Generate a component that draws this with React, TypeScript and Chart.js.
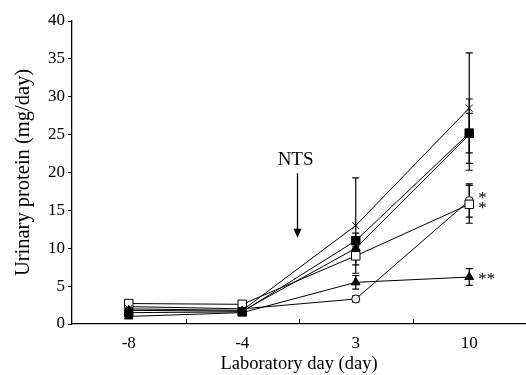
import React, { useEffect, useRef } from "react";
import { Chart, registerables } from "chart.js";

Chart.register(...registerables);

// ---- data ----
const days = ["-8", "-4", "3", "10"];
const yTicks = [0, 5, 10, 15, 20, 25, 30, 35, 40];

const crossValues = [2.0, 1.8, 13.0, 28.5];
const crossErrors = [0.3, 0.3, 6.3, 7.3];
const filledSquareValues = [1.5, 1.6, 11.0, 25.2];
const filledSquareErrors = [0.3, 0.2, 1.0, 2.6];
const filledDiamondValues = [1.8, 1.7, 10.0, 25.0];
const filledDiamondErrors = [0.3, 0.3, 1.0, 4.7];
const openSquareValues = [2.7, 2.6, 9.0, 15.8];
const openSquareErrors = [0.3, 0.3, 1.2, 2.5];
const filledTriangleValues = [1.0, 1.5, 5.5, 6.2];
const filledTriangleErrors = [0.2, 0.2, 0.9, 1.1];
const openCircleValues = [2.3, 2.0, 3.3, 16.3];
const openCircleErrors = [0.3, 0.3, 0.4, 2.2];

// annotations (category index, value)
const ntsLabel = { text: "NTS", x: 1.47, y: 21.7 };
const ntsArrow = { x: 1.48, from: 19.9, to: 11.4 };
const asterisks = [
  { text: "*", x: 3, y: 16.6 },
  { text: "*", x: 3, y: 15.3 },
  { text: "**", x: 3, y: 5.9 },
];

const FONT = "'Liberation Serif', 'Times New Roman', serif";

const idxToPixel = (scale: any, idx: number) => {
  const i0 = Math.floor(idx);
  const i1 = Math.min(i0 + 1, days.length - 1);
  const p0 = scale.getPixelForValue(i0);
  const p1 = scale.getPixelForValue(i1);
  return p0 + (p1 - p0) * (idx - i0);
};

const errorBarPlugin = {
  id: "errorBars",
  beforeDatasetsDraw(chart: any) {
    const ctx = chart.ctx;
    const y = chart.scales.y;
    ctx.save();
    ctx.strokeStyle = "#000";
    ctx.lineWidth = 1.2;
    chart.data.datasets.forEach((ds: any, i: number) => {
      const meta = chart.getDatasetMeta(i);
      meta.data.forEach((pt: any, j: number) => {
        const v = ds.data[j];
        const e = ds.errors[j];
        const top = y.getPixelForValue(v + e);
        const bot = y.getPixelForValue(v - e);
        const cap = 3.5;
        ctx.beginPath();
        ctx.moveTo(pt.x, top);
        ctx.lineTo(pt.x, bot);
        ctx.moveTo(pt.x - cap, top);
        ctx.lineTo(pt.x + cap, top);
        ctx.moveTo(pt.x - cap, bot);
        ctx.lineTo(pt.x + cap, bot);
        ctx.stroke();
      });
    });
    ctx.restore();
  },
};

const annotationPlugin = {
  id: "annotations",
  afterDraw(chart: any) {
    const ctx = chart.ctx;
    const x = chart.scales.x;
    const y = chart.scales.y;
    ctx.save();
    // inward x ticks between categories
    ctx.strokeStyle = "#000";
    ctx.lineWidth = 1;
    for (let i = 0; i < days.length - 1; i++) {
      const px = Math.round(idxToPixel(x, i + 0.5)) + 0.5;
      ctx.beginPath();
      ctx.moveTo(px, y.bottom);
      ctx.lineTo(px, y.bottom - 5);
      ctx.stroke();
    }
    // NTS label
    ctx.fillStyle = "#000";
    ctx.font = `19px ${FONT}`;
    ctx.textAlign = "center";
    ctx.textBaseline = "middle";
    ctx.fillText(ntsLabel.text, idxToPixel(x, ntsLabel.x), y.getPixelForValue(ntsLabel.y));
    // arrow
    const ax = Math.round(idxToPixel(x, ntsArrow.x)) + 0.5;
    const ay0 = y.getPixelForValue(ntsArrow.from);
    const ay1 = y.getPixelForValue(ntsArrow.to);
    ctx.lineWidth = 1.3;
    ctx.beginPath();
    ctx.moveTo(ax, ay0);
    ctx.lineTo(ax, ay1 - 6);
    ctx.stroke();
    ctx.beginPath();
    ctx.moveTo(ax - 4, ay1 - 9);
    ctx.lineTo(ax + 4, ay1 - 9);
    ctx.lineTo(ax, ay1);
    ctx.closePath();
    ctx.fill();
    // asterisks
    ctx.font = `17px ${FONT}`;
    ctx.textAlign = "left";
    asterisks.forEach((a) => {
      ctx.fillText(a.text, x.getPixelForValue(a.x) + 9, y.getPixelForValue(a.y));
    });
    ctx.restore();
  },
};

export default function App() {
  const canvasRef = useRef<HTMLCanvasElement | null>(null);

  useEffect(() => {
    const canvas = canvasRef.current;
    if (!canvas) return;
    const common = {
      borderColor: "#000",
      borderWidth: 1,
      pointBorderColor: "#000",
      pointBorderWidth: 1,
      tension: 0,
      fill: false,
    };
    const chart = new Chart(canvas, {
      type: "line",
      data: {
        labels: days,
        datasets: [
          { ...common, label: "cross", data: crossValues, errors: crossErrors, pointStyle: "crossRot", pointRadius: 5, pointBackgroundColor: "#000" } as any,
          { ...common, label: "filled square", data: filledSquareValues, errors: filledSquareErrors, pointStyle: "rect", pointRadius: 6, pointBackgroundColor: "#000" } as any,
          { ...common, label: "filled diamond", data: filledDiamondValues, errors: filledDiamondErrors, pointStyle: "triangle", pointRadius: 5, pointBackgroundColor: "#000" } as any,
          { ...common, label: "open square", data: openSquareValues, errors: openSquareErrors, pointStyle: "rect", pointRadius: 6, pointBackgroundColor: "#fff" } as any,
          { ...common, label: "filled triangle", data: filledTriangleValues, errors: filledTriangleErrors, pointStyle: "triangle", pointRadius: 5, pointBackgroundColor: "#000" } as any,
          { ...common, label: "open circle", data: openCircleValues, errors: openCircleErrors, pointStyle: "circle", pointRadius: 4, pointBackgroundColor: "#fff" } as any,
        ],
      },
      options: {
        responsive: false,
        animation: false,
        layout: { autoPadding: false, padding: { top: 21, right: 0, left: 0, bottom: 0 } },
        plugins: {
          legend: { display: false },
          tooltip: { enabled: false },
        },
        scales: {
          x: {
            type: "category",
            offset: true,
            border: { display: true, color: "#000", width: 1.3 },
            grid: { display: false },
            ticks: { color: "#000", padding: 1, font: { family: FONT, size: 17 } },
            title: {
              display: true,
              text: "Laboratory day (day)",
              color: "#000",
              font: { family: FONT, size: 18.5 },
              padding: { top: 0, bottom: 0 },
            },
            afterFit: (s: any) => {
              s.height = 51;
              s.paddingLeft = 0;
              s.paddingRight = 0;
            },
          },
          y: {
            min: 0,
            max: 40,
            afterBuildTicks: (s: any) => {
              s.ticks = yTicks.map((v) => ({ value: v }));
            },
            border: { display: true, color: "#000", width: 1.3 },
            grid: { display: true, drawOnChartArea: false, drawTicks: true, tickLength: 4, color: "#000" },
            ticks: { color: "#000", padding: 3, font: { family: FONT, size: 17 } },
            title: {
              display: true,
              text: "Urinary protein (mg/day)",
              color: "#000",
              font: { family: FONT, size: 20.5 },
              padding: { top: 11, bottom: 0 },
            },
            afterFit: (s: any) => {
              s.width = 72;
            },
          },
        },
      } as any,
      plugins: [errorBarPlugin, annotationPlugin],
    });
    return () => chart.destroy();
  }, []);

  return (
    <div style={{ position: "absolute", left: 0, top: 0, width: 526, height: 375, background: "#fff" }}>
      <canvas ref={canvasRef} width={526} height={375} style={{ display: "block" }} />
    </div>
  );
}
